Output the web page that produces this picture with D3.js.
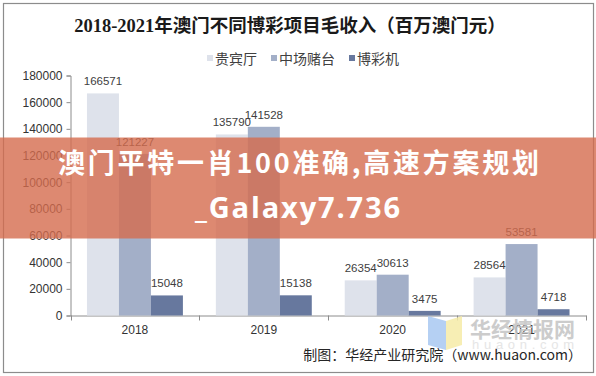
<!DOCTYPE html>
<html>
<head>
<meta charset="utf-8">
<script src="https://cdn.jsdelivr.net/npm/d3@7"></script>
<style>
  body { margin: 0; background: #fff; }
  svg { display: block; }
</style>
</head>
<body>
<div id="chart"></div>
<script>
const years = ["2018", "2019", "2020", "2021"];
const seriesNames = ["贵宾厅", "中场赌台", "博彩机"];
const vipValues = [166571, 135790, 26354, 28564];
const massValues = [121227, 141528, 30613, 53581];
const slotValues = [15048, 15138, 3475, 4718];
const yTickValues = [0, 20000, 40000, 60000, 80000, 100000, 120000, 140000, 160000, 180000];

const colors = ["#dee2eb", "#a3afc8", "#67789e"];
const seriesValues = [vipValues, massValues, slotValues];

const width = 596;
const height = 376;
const margin = { top: 75.5, right: 10, bottom: 60.5, left: 70.5 };
const latin = "'Liberation Sans', Arial, 'Noto Sans CJK SC', sans-serif";
const cjk = "'Noto Sans CJK SC', 'Liberation Sans', sans-serif";

const svg = d3.select("#chart")
  .append("svg")
  .attr("width", width)
  .attr("height", height);

svg.append("rect")
  .attr("width", width)
  .attr("height", height)
  .attr("fill", "#fff");

// outer frame
svg.append("rect")
  .attr("x", 3.5)
  .attr("y", 3.5)
  .attr("width", 590)
  .attr("height", 369)
  .attr("fill", "none")
  .attr("stroke", "#8c8c8c")
  .attr("stroke-width", 1.2);

svg.append("text")
  .text("2018-2021年澳门不同博彩项目毛收入（百万澳门元）")
  .attr("x", 290)
  .attr("y", 32)
  .attr("text-anchor", "middle")
  .attr("font-family", "'Liberation Serif', 'Noto Sans CJK SC', serif")
  .attr("font-weight", "bold")
  .attr("font-size", 18.5)
  .attr("fill", "#1a1a1a");

// legend
const legend = svg.append("g").attr("transform", "translate(207, 58)");
let lx = 0;
seriesNames.forEach((name, i) => {
  const item = legend.append("g").attr("transform", `translate(${lx}, 0)`);
  item.append("rect")
    .attr("x", 0)
    .attr("y", -3)
    .attr("width", 6)
    .attr("height", 6)
    .attr("fill", colors[i]);
  const t = item.append("text")
    .text(name)
    .attr("x", 8)
    .attr("y", 5.5)
    .attr("font-family", cjk)
    .attr("font-size", 14)
    .attr("fill", "#404040");
  lx += 8 + t.node().getComputedTextLength() + 14;
});

const x = d3.scaleBand()
  .domain(years)
  .range([margin.left, 586])
  .paddingInner(0)
  .paddingOuter(0);

const xSeries = d3.scaleBand()
  .domain(d3.range(seriesNames.length))
  .range([0, x.bandwidth()])
  .paddingInner(0)
  .paddingOuter(0.515);

const y = d3.scaleLinear()
  .domain([0, 180000])
  .range([height - margin.bottom, margin.top]);

// y axis
const yAxis = svg.append("g")
  .attr("transform", `translate(${margin.left}, 0)`)
  .call(d3.axisLeft(y).tickValues(yTickValues).tickSize(4).tickPadding(4).tickFormat(d3.format("d")));
yAxis.selectAll("path, line").attr("stroke", "#8c8c8c");
yAxis.selectAll("text")
  .attr("font-family", latin)
  .attr("font-size", 12)
  .attr("fill", "#333");

// x axis, ticks on category boundaries
const xAxis = svg.append("g")
  .attr("transform", `translate(0, ${y(0)})`)
  .call(d3.axisBottom(x).tickSize(0).tickPadding(10));
xAxis.select(".domain").attr("stroke", "#8c8c8c");
xAxis.selectAll("text")
  .attr("font-family", latin)
  .attr("font-size", 12)
  .attr("fill", "#333");
xAxis.selectAll(".boundary")
  .data(years.map(d => x(d)).concat([x(years[years.length - 1]) + x.step()]))
  .enter()
  .append("line")
  .attr("class", "boundary")
  .attr("x1", d => Math.round(d) + 0.5)
  .attr("x2", d => Math.round(d) + 0.5)
  .attr("y1", 0)
  .attr("y2", 5)
  .attr("stroke", "#8c8c8c");

// bars
const groups = svg.append("g")
  .selectAll("g")
  .data(years)
  .enter()
  .append("g")
  .attr("transform", d => `translate(${x(d)}, 0)`);

groups.selectAll("rect")
  .data((d, yi) => seriesValues.map((vals, si) => ({ si, value: vals[yi] })))
  .enter()
  .append("rect")
  .attr("x", d => xSeries(d.si))
  .attr("y", d => y(d.value))
  .attr("width", xSeries.bandwidth())
  .attr("height", d => y(0) - y(d.value))
  .attr("fill", d => colors[d.si]);

groups.selectAll("text")
  .data((d, yi) => seriesValues.map((vals, si) => ({ si, value: vals[yi] })))
  .enter()
  .append("text")
  .text(d => d.value)
  .attr("x", d => xSeries(d.si) + xSeries.bandwidth() / 2)
  .attr("y", d => y(d.value) - 8)
  .attr("text-anchor", "middle")
  .attr("font-family", latin)
  .attr("font-size", 11.5)
  .attr("fill", "#404040");

// watermark
const mark = svg.append("g").attr("opacity", 0.85);
mark.append("polygon")
  .attr("points", "428,316 446,321 446,350 428,345")
  .attr("fill", "#a9c8f2");
mark.append("polygon")
  .attr("points", "446,321 462,316 462,345 446,350")
  .attr("fill", "#f6eca8");
mark.append("text")
  .text("华经情报网")
  .attr("x", 470)
  .attr("y", 337)
  .attr("textLength", 105)
  .attr("font-family", cjk)
  .attr("font-weight", "bold")
  .attr("font-size", 21)
  .attr("fill", "#c4c4c4");
mark.append("text")
  .text("huaon.com")
  .attr("x", 472)
  .attr("y", 349)
  .attr("textLength", 102)
  .attr("lengthAdjust", "spacing")
  .attr("font-family", latin)
  .attr("font-size", 13)
  .attr("fill", "#e2e2e2");

svg.append("text")
  .text("制图：华经产业研究院（www.huaon.com）")
  .attr("x", 582)
  .attr("y", 360)
  .attr("text-anchor", "end")
  .attr("font-family", cjk)
  .attr("font-size", 14)
  .attr("fill", "#262626");

// overlay banner
svg.append("rect")
  .attr("x", 0)
  .attr("y", 137.5)
  .attr("width", width)
  .attr("height", 101)
  .attr("fill", "rgb(212, 108, 78)")
  .attr("opacity", 0.8);

svg.append("text")
  .text("澳门平特一肖100准确,高速方案规划")
  .attr("x", 298.5)
  .attr("y", 173)
  .attr("text-anchor", "middle")
  .attr("textLength", 481)
  .attr("lengthAdjust", "spacing")
  .attr("font-family", cjk)
  .attr("font-weight", "bold")
  .attr("font-size", 27)
  .attr("fill", "#fff");

svg.append("text")
  .text("_Galaxy7.736")
  .attr("x", 297.5)
  .attr("y", 218)
  .attr("text-anchor", "middle")
  .attr("textLength", 205)
  .attr("lengthAdjust", "spacing")
  .attr("font-family", "'Open Sans', 'Noto Sans', sans-serif")
  .attr("font-weight", "bold")
  .attr("font-size", 29)
  .attr("fill", "#fff");
</script>
</body>
</html>
